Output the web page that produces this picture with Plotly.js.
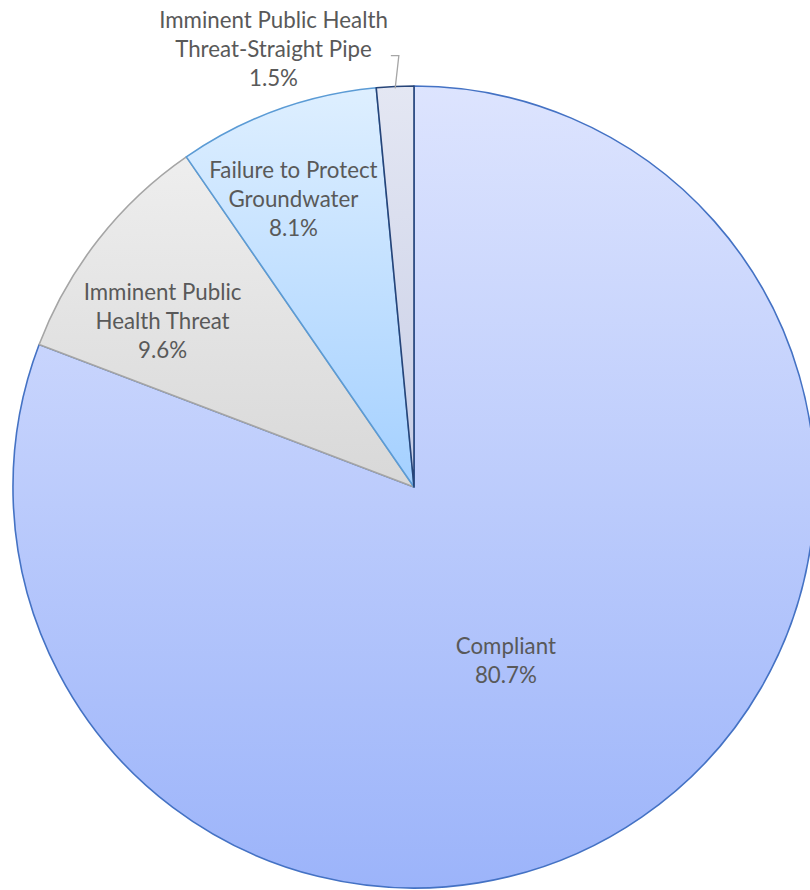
<!DOCTYPE html>
<html>
<head>
<meta charset="utf-8">
<script src="https://cdn.plot.ly/plotly-3.0.1.min.js"></script>
<style>
  html, body { margin: 0; padding: 0; background: #ffffff; overflow: hidden; }
  #chart { width: 828px; height: 890px; }
</style>
</head>
<body>
<div id="chart"></div>
<script>
// ---- data ----
const categories = [
  "Compliant",
  "Imminent Public Health Threat",
  "Failure to Protect Groundwater",
  "Imminent Public Health Threat-Straight Pipe"
];
const displayLabels = [
  "Compliant",
  "Imminent Public<br>Health Threat",
  "Failure to Protect<br>Groundwater",
  "Imminent Public Health<br>Threat-Straight Pipe"
];
const percentValues = [80.7, 9.6, 8.1, 1.5];

// ---- styles ----
const fillColors = ["#BCCBFC", "#E3E3E3", "#C4E1FF", "#D7DBEC"];
const lineColors = ["#4472C4", "#A5A5A5", "#5B9BD5", "#264478"];
const gradTop = ["#DDE4FE", "#EEEEEE", "#DEEFFF", "#E4E7F3"];
const gradBottom = ["#9CB4FA", "#D8D8D8", "#A4D0FF", "#C8CEE6"];
// small label nudges (px) to mimic the reference's label placement
const labelNudge = [[-22, 8], [-8, 24], [-11, 10], [14, 4]];

const trace = {
  type: "pie",
  labels: categories,
  values: percentValues,
  text: displayLabels,
  sort: false,
  direction: "clockwise",
  rotation: 0,
  texttemplate: "%{text}<br>%{value:.1f}%",
  textposition: ["inside", "inside", "inside", "outside"],
  insidetextorientation: "horizontal",
  textfont: { family: "Lato, 'Open Sans', sans-serif", size: 22.3, color: "#595959" },
  marker: { colors: fillColors, line: { color: lineColors, width: 1.6 } },
  hoverinfo: "none",
  domain: { x: [0, 1], y: [0.0022, 0.9034] }
};

const layout = {
  width: 828,
  height: 890,
  margin: { l: 0, r: 0, t: 0, b: 0 },
  showlegend: false,
  paper_bgcolor: "#ffffff",
  font: { family: "Lato, 'Open Sans', sans-serif", color: "#595959" }
};

Plotly.newPlot("chart", [trace], layout, { staticPlot: true, displayModeBar: false }).then(function (gd) {
  const svgNS = "http://www.w3.org/2000/svg";
  const svg = gd.querySelector(".main-svg");
  const defs = document.createElementNS(svgNS, "defs");
  svg.insertBefore(defs, svg.firstChild);
  const slices = gd.querySelectorAll("g.slice");
  slices.forEach(function (sl, i) {
    const p = sl.querySelector("path.surface");
    const g = document.createElementNS(svgNS, "linearGradient");
    g.setAttribute("id", "sliceGrad" + i);
    g.setAttribute("x1", "0"); g.setAttribute("y1", "0");
    g.setAttribute("x2", "0"); g.setAttribute("y2", "1");
    const s1 = document.createElementNS(svgNS, "stop");
    s1.setAttribute("offset", "0"); s1.setAttribute("stop-color", gradTop[i]);
    const s2 = document.createElementNS(svgNS, "stop");
    s2.setAttribute("offset", "1"); s2.setAttribute("stop-color", gradBottom[i]);
    g.appendChild(s1); g.appendChild(s2);
    defs.appendChild(g);
    p.style.fill = "url(#sliceGrad" + i + ")";
    // keep labels at full size (the reference does not shrink them) and nudge
    const t = sl.querySelector("text.slicetext");
    if (t) {
      let tr = t.getAttribute("transform") || "";
      tr = tr.replace(/scale\([^)]*\)/, "scale(1)");
      const n = labelNudge[i] || [0, 0];
      t.setAttribute("transform", "translate(" + n[0] + "," + n[1] + ") " + tr);
    }
  });

  // leader line for the outside label, from the library's computed slice geometry
  try {
    const cd = gd.calcdata[0];
    const cx = cd[0].cx, cy = cd[0].cy;
    const last = cd.length - 1;
    const pt = cd[last];
    const sliceG = slices[last];
    const txt = sliceG.querySelector("text.slicetext");
    const svgRect = svg.getBoundingClientRect();
    const tb = txt.getBoundingClientRect();
    const tx = tb.right - svgRect.left + 3;
    const lines = txt.querySelectorAll("tspan.line");
    let ty = tb.top - svgRect.top + tb.height / 2;
    if (lines.length > 1) {
      const lb = lines[1].getBoundingClientRect();
      ty = lb.top - svgRect.top + lb.height * 0.78;
    }
    const ex = cx + pt.pxmid[0] * 0.995;
    const ey = cy + pt.pxmid[1] * 0.995;
    const pl = document.createElementNS(svgNS, "polyline");
    pl.setAttribute("points", tx + "," + ty + " " + (tx + 8) + "," + ty + " " + ex + "," + ey);
    pl.setAttribute("fill", "none");
    pl.setAttribute("stroke", "#A6A6A6");
    pl.setAttribute("stroke-width", "1.3");
    svg.appendChild(pl);
  } catch (e) { console.log(e); }
});
</script>
</body>
</html>
